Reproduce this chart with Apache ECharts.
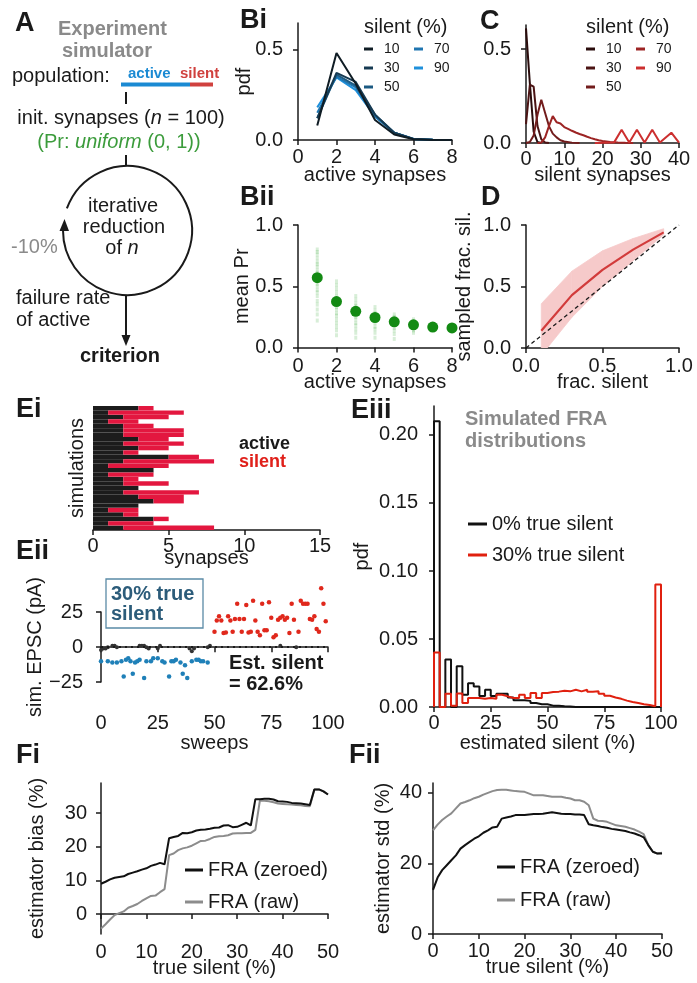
<!DOCTYPE html>
<html>
<head>
<meta charset="utf-8">
<script src="https://cdn.jsdelivr.net/npm/echarts@6/dist/echarts.min.js"></script>
<style>
html, body { margin: 0; padding: 0; background: #fff; }
#chart { width: 697px; height: 983px; }
</style>
</head>
<body>
<div id="chart"></div>
<script>
// ---------- Bi : pdf of active synapses ----------
var activeSyn = [1, 2, 3, 4, 5, 6, 7, 8];
var silentLevels = ['10', '30', '50', '70', '90'];
var pdfActive10 = [0.08, 0.48, 0.31, 0.11, 0.03, 0.004, 0, 0];
var pdfActive30 = [0.12, 0.37, 0.32, 0.14, 0.04, 0.006, 0.001, 0];
var pdfActive50 = [0.12, 0.36, 0.30, 0.14, 0.04, 0.006, 0.001, 0];
var pdfActive70 = [0.15, 0.35, 0.29, 0.13, 0.04, 0.006, 0.001, 0];
var pdfActive90 = [0.18, 0.345, 0.275, 0.13, 0.04, 0.006, 0.001, 0];

// ---------- C : pdf of silent synapses [count, pdf] ----------
var pdfSilent10 = [[0, 0.61], [1, 0.32], [2, 0.06], [3, 0.005], [4, 0]];
var pdfSilent30 = [[0, 0.10], [1, 0.31], [2, 0.30], [3, 0.09], [4, 0.02], [5, 0.003], [6, 0]];
var pdfSilent50 = [[0, 0], [1, 0.005], [2, 0.04], [3, 0.15], [4, 0.23], [5, 0.16], [6, 0.09], [7, 0.05], [8, 0.03], [9, 0.015], [10, 0.008], [12, 0.002], [14, 0]];
var pdfSilent70 = [[3, 0], [4, 0.002], [5, 0.03], [6, 0.09], [7, 0.143], [8, 0.11], [9, 0.104], [10, 0.085], [11, 0.075], [12, 0.065], [13, 0.056], [14, 0.048], [15, 0.041], [16, 0.033], [17, 0.026], [18, 0.02], [19, 0.015], [20, 0.011], [22, 0.006], [24, 0.003], [26, 0.001], [28, 0]];
var pdfSilent90 = [[18, 0], [23, 0.002], [25, 0.07], [27, 0.003], [29, 0.07], [31, 0.003], [33, 0.07], [35, 0.003], [38, 0.055], [40, 0.002]];

// ---------- Bii : mean Pr per active count ----------
var meanPr = [0.57, 0.375, 0.295, 0.245, 0.21, 0.185, 0.167, 0.16];
var prSpread = [
    [0.22, 0.27, 0.31, 0.35, 0.38, 0.42, 0.45, 0.47, 0.5, 0.52, 0.55, 0.57, 0.59, 0.61, 0.63, 0.66, 0.68, 0.7, 0.73, 0.76, 0.78, 0.8],
    [0.1, 0.14, 0.17, 0.2, 0.23, 0.26, 0.28, 0.31, 0.33, 0.36, 0.38, 0.4, 0.42, 0.45, 0.48, 0.51, 0.54],
    [0.08, 0.12, 0.15, 0.18, 0.2, 0.23, 0.25, 0.28, 0.3, 0.32, 0.34, 0.36, 0.39, 0.42],
    [0.08, 0.12, 0.15, 0.17, 0.2, 0.22, 0.24, 0.26, 0.28, 0.3, 0.33],
    [0.07, 0.11, 0.14, 0.16, 0.19, 0.21, 0.23, 0.25, 0.27],
    [0.12, 0.14, 0.16, 0.18, 0.2, 0.21, 0.23],
    [0.15, 0.17, 0.19],
    [0.15, 0.17]
];

// ---------- D : sampled fraction silent ----------
var fracSilent = [0.1, 0.3, 0.5, 0.7, 0.9];
var sampledMean = [0.14, 0.43, 0.635, 0.80, 0.94];
var sampledLow = [-0.06, 0.25, 0.50, 0.71, 0.92];
var sampledHigh = [0.36, 0.625, 0.79, 0.89, 0.97];
var unityLine = [[0, 0], [1, 1]];

// ---------- Ei : synapse makeup per simulation ----------
var eiActive = [3, 1, 2, 1, 2, 2, 2, 3, 2, 3, 2, 5, 2, 1, 4, 1, 2, 2, 3, 2, 3, 4, 3, 1, 2, 4, 1, 2];
var eiSilent = [1, 5, 3, 2, 2, 4, 4, 2, 4, 2, 1, 2, 6, 4, 0, 3, 1, 3, 0, 5, 3, 2, 0, 2, 1, 1, 3, 6];

// ---------- Eii : simulated EPSCs [sweep, pA] ----------
var eiiFailures = [[0, -2], [1, -1], [2, -1], [3, 0], [5, 1], [6, 1], [7, 0], [17, 1], [18, 1], [19, 1], [20, 0], [21, -1], [25, -1], [26, 1], [39, -1], [40, -3], [41, -1], [47, 0], [48, 1], [79, 1], [86, 0]];
var eiiHyper = [[0, -10], [3, -10], [5, -11], [7, -11], [9, -10], [10, -21], [11, -9], [12, -8], [13, -10], [14, -19], [15, -11], [16, -10], [17, -9], [19, -22], [20, -10], [22, -10], [23, -8], [25, -8], [27, -10], [28, -11], [30, -21], [31, -10], [32, -10], [33, -9], [35, -11], [36, -19], [37, -13], [38, -22], [40, -10], [42, -9], [43, -9], [44, -10], [45, -10], [47, -11]];
var eiiDepol = [[50, 11], [51, 19], [52, 22], [53, 19], [54, 10], [55, 10.5], [56, 22], [57, 19], [58, 11], [59, 20], [60, 31], [61, 20], [62, 11], [63, 20], [64, 30], [65, 10.5], [66, 11], [67, 33], [68, 19], [69, 11], [70, 8.5], [71, 31], [72, 12], [73, 12], [74, 32], [75, 21], [76, 7], [77, 8.5], [78, 19.5], [79, 21], [80, 22], [81, 19.5], [82, 21], [83, 10], [84, 31], [85, 19.5], [87, 11], [88, 33], [89, 31], [90, 31], [91, 31], [92, 20], [93, 19.5], [94, 22], [95, 13], [96, 11], [97, 42], [98, 31], [99, 18.5]];

// ---------- Eiii : FRA histograms (bins of 2.5 %) ----------
var fraBinWidth = 2.5;
var fraHist0 = [0.21, 0, 0.035, 0, 0.030, 0.009, 0.0175, 0.015, 0.008, 0.0127, 0.008, 0.0098, 0.0098, 0.007, 0.005, 0.005, 0.0045, 0.003, 0.002, 0.002, 0.001, 0.001, 0.0005, 0.0003, 0, 0, 0, 0, 0, 0, 0, 0, 0, 0, 0, 0, 0, 0, 0, 0];
var fraHist30 = [0.04, 0, 0.0098, 0.001, 0.01, 0.003, 0.0066, 0.0066, 0.006, 0.0066, 0.006, 0.009, 0.0078, 0.0066, 0.0066, 0.009, 0.0066, 0.0103, 0.0066, 0.0103, 0.011, 0.0113, 0.012, 0.0115, 0.0127, 0.0115, 0.0127, 0.0112, 0.0115, 0.0098, 0.0083, 0.007, 0.006, 0.0047, 0.0037, 0.003, 0.002, 0.0015, 0.0005, 0.09];

// ---------- Fi / Fii : estimator bias and std ----------
var trueSilent = [0, 1, 2, 3, 4, 5, 6, 7, 8, 9, 10, 11, 12, 13, 14, 15, 16, 17, 18, 19, 20, 21, 22, 23, 24, 25, 26, 27, 28, 29, 30, 31, 32, 33, 34, 35, 36, 37, 38, 39, 40, 41, 42, 43, 44, 45, 46, 47, 48, 49, 50];
var biasZeroed = [9.0, 9.6, 10.3, 10.8, 11.0, 11.2, 11.9, 12.3, 12.7, 13.2, 13.6, 14.3, 14.7, 15.2, 14.8, 22.5, 22.9, 23.2, 24.1, 24.0, 24.3, 24.8, 25.0, 25.1, 25.3, 25.6, 25.7, 26.3, 26.4, 25.8, 25.9, 26.5, 27.1, 26.3, 34.1, 34.1, 34.2, 34.2, 34.0, 33.5, 33.4, 33.3, 33.0, 32.9, 32.8, 32.6, 32.4, 37.0, 37.0, 36.4, 35.5];
var biasRaw = [-4.3, -3.0, -1.6, -0.3, 0.3, 0.8, 1.9, 2.4, 3.0, 3.9, 4.7, 5.4, 5.5, 6.5, 7.4, 17.5, 18.0, 19.0, 19.5, 19.8, 20.3, 21.0, 21.7, 21.8, 22.3, 22.9, 23.1, 23.2, 23.4, 23.9, 24.0, 24.0, 24.1, 24.1, 25.0, 33.7, 33.6, 33.5, 33.2, 32.8, 32.7, 32.6, 32.5, 32.4, 32.3, 32.1, 32.0, 37.0, 37.0, 36.4, 35.5];
var stdZeroed = [12.5, 16.0, 18.1, 19.5, 20.9, 22.3, 24.2, 25.2, 26.1, 27.0, 27.7, 28.7, 29.4, 30.2, 30.4, 32.7, 33.0, 33.3, 33.7, 33.7, 33.7, 33.9, 34.0, 34.0, 34.1, 34.3, 34.5, 34.3, 34.1, 34.0, 34.0, 33.9, 33.9, 33.7, 31.1, 30.8, 30.6, 30.3, 30.1, 29.8, 29.6, 29.4, 29.2, 28.8, 28.5, 28.0, 27.4, 25.2, 23.3, 22.8, 22.8];
var stdRaw = [29.4, 31.0, 32.3, 33.3, 34.2, 35.6, 37.0, 37.4, 37.9, 38.5, 38.9, 39.5, 40.0, 40.5, 40.8, 40.9, 40.9, 40.7, 40.5, 40.4, 40.3, 39.8, 39.3, 39.3, 39.3, 39.1, 38.9, 38.9, 38.9, 38.6, 38.4, 37.9, 37.9, 37.5, 36.5, 32.7, 32.1, 32.0, 31.8, 31.3, 30.8, 30.6, 30.4, 30.0, 29.6, 29.0, 28.3, 25.2, 23.3, 22.8, 23.0];

var FONT = "'Liberation Sans', Arial, Helvetica, sans-serif";
var INK = '#1a1a1a';
var blues = ['#0f1c24', '#163a52', '#1c5a82', '#1f75b0', '#1f90db'];
var reds = ['#2a0c0c', '#4b1414', '#721c1c', '#9c2424', '#cc2f2f'];
var bandPink = '#f6caca';

function fmt1(v) { return v.toFixed(1); }
function fmt2(v) { return v.toFixed(2); }
function fmtInt(v) { return String(v).replace('-', '\u2212'); }

function baseAxis(gi, min, max, ticks, fmt) {
    return {
        type: 'value', gridIndex: gi, min: min, max: max,
        axisLine: {show: true, lineStyle: {color: INK, width: 1.5}},
        axisTick: {show: true, length: 5, lineStyle: {color: INK, width: 1.5}, customValues: ticks},
        axisLabel: {fontSize: 20, color: INK, fontFamily: FONT, customValues: ticks, formatter: fmt || fmtInt},
        splitLine: {show: false},
        nameLocation: 'middle',
        nameMoveOverlap: false,
        nameTextStyle: {fontSize: 20, color: INK, fontFamily: FONT}
    };
}
function xAx(gi, min, max, ticks, name, gap, off, margin, fmt) {
    var a = baseAxis(gi, min, max, ticks, fmt);
    a.name = name; a.nameGap = gap; a.offset = off; a.axisLabel.margin = margin;
    return a;
}
function yAx(gi, min, max, ticks, name, gap, off, margin, fmt) {
    var a = baseAxis(gi, min, max, ticks, fmt);
    a.name = name; a.nameGap = gap; a.offset = off; a.axisLabel.margin = margin;
    return a;
}

function pairs(xs, ys) { return xs.map(function (x, i) { return [x, ys[i]]; }); }
function stepHist(h) {
    var d = [[0, 0]];
    h.forEach(function (v, i) { d.push([i * fraBinWidth, v]); });
    d.push([h.length * fraBinWidth, 0]);
    return d;
}

var grids = [
    {left: 298, top: 23, width: 154, height: 117},    // 0 Bi
    {left: 526, top: 25, width: 153, height: 118},    // 1 C
    {left: 298, top: 225, width: 154, height: 122.5}, // 2 Bii
    {left: 526, top: 225, width: 153, height: 123},   // 3 D
    {left: 93, top: 406, width: 227, height: 124},    // 4 Ei
    {left: 101, top: 584, width: 227, height: 101},   // 5 Eii data
    {left: 101, top: 612, width: 227, height: 70},    // 6 Eii y spine
    {left: 434, top: 406, width: 227, height: 301},   // 7 Eiii
    {left: 101, top: 783, width: 227, height: 151},   // 8 Fi
    {left: 433, top: 783, width: 229, height: 151}    // 9 Fii
].map(function (g) { g.containLabel = false; g.outerBoundsMode = 'none'; return g; });

var eiRows = eiActive.map(function (v, i) { return 'r' + i; });

var xAxes = [
    xAx(0, 0, 8, [0, 2, 4, 6, 8], 'active synapses', 22, 3, 4),
    xAx(1, 0, 40, [0, 10, 20, 30, 40], 'silent synapses', 22, 0, 6),
    xAx(2, 0, 8, [0, 2, 4, 6, 8], 'active synapses', 24, 1, 8),
    xAx(3, 0, 1, [0, 0.5, 1], 'frac. silent', 24, 0, 8, fmt1),
    xAx(4, 0, 15, [0, 5, 10, 15], 'synapses', 18, 0, 6),
    xAx(5, 0, 100, [0, 25, 50, 75, 100], 'sweeps', 26, 22, 6),
    {type: 'value', gridIndex: 6, min: 0, max: 100, show: false},
    xAx(7, 0, 100, [0, 25, 50, 75, 100], 'estimated silent (%)', 26, 0, 6),
    xAx(8, 0, 50, [0, 10, 20, 30, 40, 50], 'true silent (%)', 22, 2, 6),
    xAx(9, 0, 50, [0, 10, 20, 30, 40, 50], 'true silent (%)', 22, 1, 6)
];

var eiY = {
    type: 'category', gridIndex: 4, data: eiRows, inverse: true,
    axisLine: {show: false}, axisTick: {show: false}, axisLabel: {show: false},
    name: 'simulations', nameLocation: 'middle', nameGap: 6, nameMoveOverlap: false,
    nameTextStyle: {fontSize: 20, color: INK, fontFamily: FONT}
};
var eiiDataY = {type: 'value', gridIndex: 5, min: -27, max: 45, show: false};

var yAxes = [
    yAx(0, 0, 0.645, [0, 0.5], 'pdf', 36, 8, 7, fmt1),
    yAx(1, 0, 0.628, [0, 0.5], '', 30, 8, 7, fmt1),
    yAx(2, 0, 1, [0, 0.5, 1], 'mean Pr', 38, 8, 7, fmt1),
    yAx(3, 0, 1, [0, 0.5, 1], 'sampled frac. sil.', 44, 8, 7, fmt1),
    eiY,
    eiiDataY,
    yAx(6, -25, 25, [-25, 0, 25], 'sim. EPSC (pA)', 45, 11, 7),
    yAx(7, 0, 0.2213, [0, 0.05, 0.1, 0.15, 0.2], 'pdf', 54, 8, 8, fmt2),
    yAx(8, -5.9, 38.9, [0, 10, 20, 30], 'estimator bias (%)', 46, 8, 6),
    yAx(9, 0, 42.8, [0, 20, 40], 'estimator std (%)', 33, 7, 4)
];

var series = [];
var activePdfs = [pdfActive10, pdfActive30, pdfActive50, pdfActive70, pdfActive90];
var silentPdfs = [pdfSilent10, pdfSilent30, pdfSilent50, pdfSilent70, pdfSilent90];
silentLevels.forEach(function (lv, k) {
    series.push({
        type: 'line', name: 'Bi-' + lv, xAxisIndex: 0, yAxisIndex: 0,
        data: pairs(activeSyn, activePdfs[k]), symbol: 'none', color: blues[k],
        lineStyle: {width: 2}, z: 10 - k
    });
});
silentLevels.forEach(function (lv, k) {
    series.push({
        type: 'line', name: 'C-' + lv, xAxisIndex: 1, yAxisIndex: 1,
        data: silentPdfs[k], symbol: 'none', color: reds[k],
        lineStyle: {width: 2}
    });
});

// Bii
var spreadPts = [];
prSpread.forEach(function (col, i) {
    col.forEach(function (v) { spreadPts.push([activeSyn[i], v]); });
});
series.push({
    type: 'scatter', xAxisIndex: 2, yAxisIndex: 2, data: spreadPts,
    symbol: 'rect', symbolSize: [3, 4], itemStyle: {color: 'rgb(40,160,40)', opacity: 0.18}, silent: true
});
series.push({
    type: 'scatter', xAxisIndex: 2, yAxisIndex: 2, data: pairs(activeSyn, meanPr),
    symbolSize: 11, itemStyle: {color: '#138a13', opacity: 1}, z: 5
});

// D : shaded range drawn quad by quad between consecutive fractions
series.push({
    type: 'custom', xAxisIndex: 3, yAxisIndex: 3, clip: true, silent: true,
    data: fracSilent.map(function (x, i) { return [x, sampledLow[i], sampledHigh[i]]; }),
    encode: {x: 0, y: [1, 2]},
    renderItem: function (params, api) {
        var i = params.dataIndex;
        if (i >= fracSilent.length - 1) return null;
        var pts = [
            api.coord([fracSilent[i], sampledLow[i]]),
            api.coord([fracSilent[i + 1], sampledLow[i + 1]]),
            api.coord([fracSilent[i + 1], sampledHigh[i + 1]]),
            api.coord([fracSilent[i], sampledHigh[i]])
        ];
        return {type: 'polygon', shape: {points: pts}, style: {fill: bandPink, stroke: bandPink, lineWidth: 0.8}};
    },
    z: 1
});
series.push({
    type: 'line', xAxisIndex: 3, yAxisIndex: 3, data: unityLine, symbol: 'none',
    lineStyle: {color: INK, width: 1.3, type: [4, 3]}, z: 4
});
series.push({
    type: 'line', xAxisIndex: 3, yAxisIndex: 3, data: pairs(fracSilent, sampledMean), symbol: 'none',
    lineStyle: {color: '#d23b3b', width: 2.2}, z: 5
});

// Ei
series.push({
    type: 'bar', xAxisIndex: 4, yAxisIndex: 4, stack: 'syn', data: eiActive,
    barCategoryGap: '0%', itemStyle: {color: '#1c1c1c'}, silent: true
});
series.push({
    type: 'bar', xAxisIndex: 4, yAxisIndex: 4, stack: 'syn', data: eiSilent,
    barCategoryGap: '0%', itemStyle: {color: '#e3173f'}, silent: true
});

// Eii
series.push({
    type: 'scatter', xAxisIndex: 5, yAxisIndex: 5, data: eiiFailures, symbolSize: 4,
    itemStyle: {color: '#333', opacity: 1},
    markLine: {
        silent: true, symbol: 'none', label: {show: false},
        lineStyle: {color: INK, width: 2, type: [2, 4]},
        data: [{yAxis: 0}]
    }
});
series.push({
    type: 'scatter', xAxisIndex: 5, yAxisIndex: 5, data: eiiHyper, symbolSize: 4.5,
    itemStyle: {color: '#1f80b8', opacity: 1}
});
series.push({
    type: 'scatter', xAxisIndex: 5, yAxisIndex: 5, data: eiiDepol, symbolSize: 4.5,
    itemStyle: {color: '#e0281c', opacity: 1}
});

// Eiii
series.push({
    type: 'line', name: '0% true silent', xAxisIndex: 7, yAxisIndex: 7, data: stepHist(fraHist0),
    step: 'end', symbol: 'none', color: '#111', lineStyle: {width: 2}
});
series.push({
    type: 'line', name: '30% true silent', xAxisIndex: 7, yAxisIndex: 7, data: stepHist(fraHist30),
    step: 'end', symbol: 'none', color: '#e0200f', lineStyle: {width: 2}
});

// Fi / Fii
series.push({
    type: 'line', name: 'FRA (raw)', xAxisIndex: 8, yAxisIndex: 8, data: pairs(trueSilent, biasRaw),
    symbol: 'none', color: '#8c8c8c', lineStyle: {width: 2}
});
series.push({
    type: 'line', name: 'FRA (zeroed)', xAxisIndex: 8, yAxisIndex: 8, data: pairs(trueSilent, biasZeroed),
    symbol: 'none', color: '#111', lineStyle: {width: 2}
});
series.push({
    type: 'line', name: 'FRA (raw)', xAxisIndex: 9, yAxisIndex: 9, data: pairs(trueSilent, stdRaw),
    symbol: 'none', color: '#8c8c8c', lineStyle: {width: 2}
});
series.push({
    type: 'line', name: 'FRA (zeroed)', xAxisIndex: 9, yAxisIndex: 9, data: pairs(trueSilent, stdZeroed),
    symbol: 'none', color: '#111', lineStyle: {width: 2}
});

function legendBox(names, left, top, size, gap, iw, pad) {
    return {
        data: names, left: left, top: top, orient: 'vertical', selectedMode: false,
        itemWidth: iw, itemHeight: 3, itemGap: gap, icon: 'rect', padding: 0,
        formatter: function (n) { return n.indexOf('-') > 0 ? n.split('-')[1] : n; },
        textStyle: {fontSize: size, lineHeight: size + 2, color: INK, fontFamily: FONT, padding: [0, 0, 0, pad]}
    };
}
var legends = [
    legendBox(['Bi-10', 'Bi-30', 'Bi-50'], 364, 41, 14, 3, 9, 6),
    legendBox(['Bi-70', 'Bi-90'], 414, 41, 14, 3, 9, 6),
    legendBox(['C-10', 'C-30', 'C-50'], 586, 41, 14, 3, 9, 6),
    legendBox(['C-70', 'C-90'], 636, 41, 14, 3, 9, 6),
    legendBox(['0% true silent', '30% true silent'], 468, 513, 20, 9, 19, 0),
    legendBox(['FRA (zeroed)', 'FRA (raw)'], 185, 859, 20, 10, 18, 0),
    legendBox(['FRA (zeroed)', 'FRA (raw)'], 497, 856, 20, 11, 18, 0)
];

function T(x, y, text, o) {
    var st = {text: text, x: 0, y: 0, fill: INK, fontSize: 20, fontFamily: FONT, align: 'left', verticalAlign: 'middle'};
    for (var k in (o || {})) st[k] = o[k];
    return {type: 'text', x: x, y: y, style: st, silent: true};
}
function L(x1, y1, x2, y2, c, w) {
    return {type: 'line', shape: {x1: x1, y1: y1, x2: x2, y2: y2}, style: {stroke: c || INK, lineWidth: w || 2}, silent: true};
}
var bold = {fontWeight: 'bold'};
var gray = '#8a8a8a';

var graphics = [
    // panel letters
    T(15, 24, 'A', {fontSize: 27, fontWeight: 'bold'}),
    T(240, 21, 'Bi', {fontSize: 27, fontWeight: 'bold'}),
    T(480, 22, 'C', {fontSize: 27, fontWeight: 'bold'}),
    T(240, 198, 'Bii', {fontSize: 27, fontWeight: 'bold'}),
    T(481, 198, 'D', {fontSize: 27, fontWeight: 'bold'}),
    T(16, 410, 'Ei', {fontSize: 27, fontWeight: 'bold'}),
    T(16, 552, 'Eii', {fontSize: 27, fontWeight: 'bold'}),
    T(351, 411, 'Eiii', {fontSize: 27, fontWeight: 'bold'}),
    T(16, 756, 'Fi', {fontSize: 27, fontWeight: 'bold'}),
    T(349, 756, 'Fii', {fontSize: 27, fontWeight: 'bold'}),

    // panel A schematic
    T(58, 29, 'Experiment', {fontWeight: 'bold', fill: gray}),
    T(62, 51, 'simulator', {fontWeight: 'bold', fill: gray}),
    T(12, 76, 'population:'),
    T(128, 74, 'active', {fontWeight: 'bold', fontSize: 15, fill: '#1b8ad3'}),
    T(180, 74, 'silent', {fontWeight: 'bold', fontSize: 15, fill: '#d0413e'}),
    {type: 'rect', shape: {x: 121, y: 82.5, width: 69, height: 4}, style: {fill: '#1b8ad3'}, silent: true},
    {type: 'rect', shape: {x: 190, y: 82.5, width: 23, height: 4}, style: {fill: '#d0413e'}, silent: true},
    L(126, 92, 126, 104, INK, 2),
    {type: 'text', x: 121, y: 118, silent: true, style: {
        text: '{r|init. synapses (}{i|n}{r| = 100)}', align: 'center', verticalAlign: 'middle',
        rich: {r: {fontSize: 20, fontFamily: FONT, fill: INK}, i: {fontSize: 20, fontFamily: FONT, fill: INK, fontStyle: 'italic'}}
    }},
    {type: 'text', x: 119, y: 142, silent: true, style: {
        text: '{r|(Pr: }{i|uniform}{r| (0, 1))}', align: 'center', verticalAlign: 'middle',
        rich: {r: {fontSize: 20, fontFamily: FONT, fill: '#3c9c3c'}, i: {fontSize: 20, fontFamily: FONT, fill: '#3c9c3c', fontStyle: 'italic'}}
    }},
    L(126, 155, 126, 166, INK, 2),
    {type: 'arc', shape: {cx: 127.5, cy: 230.5, r: 64.5, startAngle: 200 * Math.PI / 180, endAngle: Math.PI, clockwise: true},
        style: {stroke: INK, lineWidth: 2, fill: 'none'}, silent: true},
    {type: 'polygon', shape: {points: [[64.5, 219], [59.5, 231], [69, 231]]}, style: {fill: INK}, silent: true},
    T(123, 206, 'iterative', {align: 'center'}),
    T(124, 227, 'reduction', {align: 'center'}),
    {type: 'text', x: 122, y: 248, silent: true, style: {
        text: '{r|of }{i|n}', align: 'center', verticalAlign: 'middle',
        rich: {r: {fontSize: 20, fontFamily: FONT, fill: INK}, i: {fontSize: 20, fontFamily: FONT, fill: INK, fontStyle: 'italic'}}
    }},
    T(11, 247, '-10%', {fill: gray}),
    L(126, 295, 126, 336, INK, 2),
    {type: 'polygon', shape: {points: [[126, 346], [121.5, 335], [130.5, 335]]}, style: {fill: INK}, silent: true},
    T(16, 298, 'failure rate'),
    T(16, 320, 'of active'),
    T(120, 356, 'criterion', {fontWeight: 'bold', align: 'center'}),

    // legend titles
    T(364, 27, 'silent (%)'),
    T(586, 27, 'silent (%)'),

    // Ei annotation
    T(239, 444, 'active', {fontWeight: 'bold', fontSize: 18}),
    T(239, 462, 'silent', {fontWeight: 'bold', fontSize: 18, fill: '#e0201a'}),

    // Eii annotations
    {type: 'rect', shape: {x: 106, y: 579, width: 97, height: 49}, style: {fill: 'none', stroke: '#5a8aa6', lineWidth: 1.3}, silent: true},
    T(111, 594, '30% true', {fontWeight: 'bold', fill: '#2c5c7a'}),
    T(111, 614, 'silent', {fontWeight: 'bold', fill: '#2c5c7a'}),
    T(229, 663, 'Est. silent', bold),
    T(229, 684, '= 62.6%', bold),

    // Eiii title
    T(465, 419, 'Simulated FRA', {fontWeight: 'bold', fill: gray}),
    T(465, 441, 'distributions', {fontWeight: 'bold', fill: gray})
];

var myChart = echarts.init(document.getElementById('chart'));
myChart.setOption({
    animation: false,
    backgroundColor: '#fff',
    textStyle: {fontFamily: FONT},
    grid: grids,
    xAxis: xAxes,
    yAxis: yAxes,
    legend: legends,
    series: series,
    graphic: graphics
});
</script>
</body>
</html>
